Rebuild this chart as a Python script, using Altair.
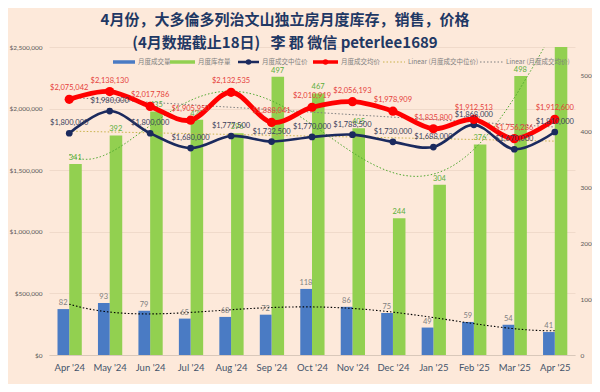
import json
import altair as alt
import pandas as pd

months = ["Apr '24", "May '24", "Jun '24", "Jul '24", "Aug '24", "Sep '24", "Oct '24",
          "Nov '24", "Dec '24", "Jan '25", "Feb '25", "Mar '25", "Apr '25"]
sales = [82, 93, 79, 65, 68, 72, 118, 86, 75, 49, 59, 54, 41]
inventory = [341, 392, 435, 420, 396, 497, 467, 405, 244, 304, 376, 498, 565]
median_price = [1800000, 1980000, 1800000, 1680000, 1777500, 1732500, 1770000,
                1788500, 1730000, 1688000, 1868000, 1670000, 1810000]
avg_price = [2075042, 2138130, 2017786, 1905950, 2132535, 1888041, 2010919,
             2056193, 1978909, 1835800, 1912513, 1756286, 1912600]

title_lines = ["4月份，大多倫多列治文山独立房月度库存，销售，价格",
               "(4月数据截止18日)\u00a0\u00a0\u00a0李\u00a0郡\u00a0微信\u00a0peterlee1689"]
legend_labels = ["月度成交量", "月度库存量", "月度成交中位价", "月度成交均价",
                 "Linear (月度成交中位价)", "Linear (月度成交均价)"]

df = pd.DataFrame({"idx": list(range(len(months))), "month": months, "sales": sales,
                   "inv": inventory, "median": median_price, "avg": avg_price})

W, H = 526, 308
NUM_FONT = "Liberation Sans Narrow, Lato, sans-serif"
CJK = "Noto Sans CJK SC"

xscale = alt.Scale(domain=[-0.5, len(months) - 0.5], nice=False, zero=False)
xaxis = alt.Axis(values=list(range(len(months))), labelExpr=f"{json.dumps(months)}[datum.value]",
                 title=None, grid=False, ticks=False, domain=True, domainColor="#D9C8BA",
                 labelFontSize=9.5, labelColor="#44546A", labelFont=NUM_FONT, labelPadding=7)

lscale = alt.Scale(domain=[0, 2500000], nice=False)
laxis = alt.Axis(values=[0, 500000, 1000000, 1500000, 2000000, 2500000], format="$,.0f",
                 title=None, ticks=False, domain=False, grid=True, gridColor="#F0DACA",
                 labelFontSize=6.5, labelColor="#595959", labelFont=NUM_FONT, labelPadding=7)
rscale = alt.Scale(domain=[0, 550], nice=False)
raxis = alt.Axis(values=[0, 100, 200, 300, 400, 500], orient="right", title=None, ticks=False,
                 domain=False, grid=False, labelFontSize=6.5, labelColor="#595959",
                 labelFont=NUM_FONT, labelPadding=5)

base = alt.Chart(df)
X = alt.X("idx:Q", scale=xscale, axis=xaxis)

# ---------- left axis (prices) ----------
med_line = base.mark_line(color="#1B2A5E", strokeWidth=2.6, interpolate="cardinal").encode(
    x=X, y=alt.Y("median:Q", scale=lscale, axis=laxis))
med_pts = base.mark_circle(color="#1B2A5E", size=45, opacity=1).encode(
    x=X, y=alt.Y("median:Q", scale=lscale, axis=laxis))
avg_line = base.mark_line(color="#FF0000", strokeWidth=4.8, interpolate="cardinal").encode(
    x=X, y=alt.Y("avg:Q", scale=lscale, axis=laxis))
avg_pts = base.mark_circle(color="#FF0000", size=85, opacity=1).encode(
    x=X, y=alt.Y("avg:Q", scale=lscale, axis=laxis))
med_trend = base.transform_regression("idx", "median").mark_line(
    color="#C9B24A", strokeWidth=1, strokeDash=[1.5, 2]).encode(
    x=X, y=alt.Y("median:Q", scale=lscale, axis=laxis))
avg_trend = base.transform_regression("idx", "avg").mark_line(
    color="#7F7F7F", strokeWidth=1, strokeDash=[1.5, 2]).encode(
    x=X, y=alt.Y("avg:Q", scale=lscale, axis=laxis))
med_lab = base.mark_text(color="#3B3F5C", fontSize=7.5, font=NUM_FONT, dy=-10).encode(
    x=X, y=alt.Y("median:Q", scale=lscale, axis=laxis), text=alt.Text("median:Q", format="$,.0f"))
avg_lab = base.mark_text(color="#E5403A", fontSize=7.5, font=NUM_FONT, dy=-11).encode(
    x=X, y=alt.Y("avg:Q", scale=lscale, axis=laxis), text=alt.Text("avg:Q", format="$,.0f"))

left = alt.layer(med_trend, avg_trend, med_line, avg_line, med_pts, avg_pts, med_lab, avg_lab)

# ---------- right axis (counts) ----------
sales_bar = base.transform_calculate(xa="datum.idx - 0.29", xb="datum.idx").mark_bar(
    color="#4A7BC4").encode(x=alt.X("xa:Q", scale=xscale, axis=xaxis), x2="xb:Q",
                            y=alt.Y("sales:Q", scale=rscale, axis=raxis), y2=alt.datum(0))
inv_bar = base.transform_calculate(xa="datum.idx", xb="datum.idx + 0.31").mark_bar(
    color="#92D050", clip=True).encode(x=alt.X("xa:Q", scale=xscale, axis=xaxis), x2="xb:Q",
                                       y=alt.Y("inv:Q", scale=rscale, axis=raxis), y2=alt.datum(0))
sales_lab = base.transform_calculate(xc="datum.idx - 0.15").mark_text(
    color="#7F7F7F", fontSize=7.5, font=NUM_FONT, dy=-6).encode(
    x=alt.X("xc:Q", scale=xscale, axis=xaxis), y=alt.Y("sales:Q", scale=rscale, axis=raxis),
    text="sales:Q")
inv_lab = base.transform_filter("datum.inv <= 550").transform_calculate(xc="datum.idx + 0.15").mark_text(
    color="#5BAE3A", fontSize=7.5, font=NUM_FONT, dy=-6).encode(
    x=alt.X("xc:Q", scale=xscale, axis=xaxis), y=alt.Y("inv:Q", scale=rscale, axis=raxis),
    text="inv:Q")
inv_trend = base.transform_regression("idx", "inv", method="poly", order=5).mark_line(
    color="#4EA72E", strokeWidth=1, strokeDash=[1.5, 2], clip=True).encode(
    x=X, y=alt.Y("inv:Q", scale=rscale, axis=raxis))
sales_trend = base.transform_regression("idx", "sales", method="poly", order=4).mark_line(
    color="#000000", strokeWidth=1.1, strokeDash=[1.5, 2], clip=True).encode(
    x=X, y=alt.Y("sales:Q", scale=rscale, axis=raxis))

right = alt.layer(inv_bar, sales_bar, inv_trend, sales_trend, sales_lab, inv_lab)

# ---------- title & legend (layout) ----------
one = pd.DataFrame({"k": [0]})
title_x, title_y = 236, [-27, -4]
title_marks = [alt.Chart(one).mark_text(font=CJK, fontSize=15, fontWeight="bold", color="#1F3864",
                                        align="center", baseline="middle").encode(
    x=alt.value(title_x), y=alt.value(ty), text=alt.value(t)) for t, ty in zip(title_lines, title_y)]

LY = 15
sw = [(64, 86), (121, 146), (189, 210), (264, 289), (334, 356), (431, 454)]
legend_marks = []
styles = [
    dict(color="#4A7BC4", strokeWidth=3.5),
    dict(color="#92D050", strokeWidth=3.5),
    dict(color="#1B2A5E", strokeWidth=2.5),
    dict(color="#FF0000", strokeWidth=3.5),
    dict(color="#C9B24A", strokeWidth=1, strokeDash=[1.5, 2]),
    dict(color="#7F7F7F", strokeWidth=1, strokeDash=[1.5, 2]),
]
for i, (lab, (a, b), st) in enumerate(zip(legend_labels, sw, styles)):
    legend_marks.append(alt.Chart(one).mark_rule(**st).encode(
        x=alt.value(a), x2=alt.value(b), y=alt.value(LY)))
    if i in (2, 3):
        legend_marks.append(alt.Chart(one).mark_circle(color=st["color"], size=30, opacity=1).encode(
            x=alt.value((a + b) / 2), y=alt.value(LY)))
    legend_marks.append(alt.Chart(one).mark_text(font=CJK, fontSize=6.5, color="#7F7F7F",
                                                 align="left", baseline="middle").encode(
        x=alt.value(b + 3), y=alt.value(LY), text=alt.value(lab)))

chart = alt.layer(right, left, *legend_marks, *title_marks).resolve_scale(
    y="independent").properties(
    width=W, height=H,
    autosize=alt.AutoSizeParams(type="none"),
    padding={"left": 41, "top": 39, "right": 17, "bottom": 29},
    background="#FDE9DA",
).configure_view(stroke=None)

chart.save("out.html", embed_options={"renderer": "svg", "actions": False})
